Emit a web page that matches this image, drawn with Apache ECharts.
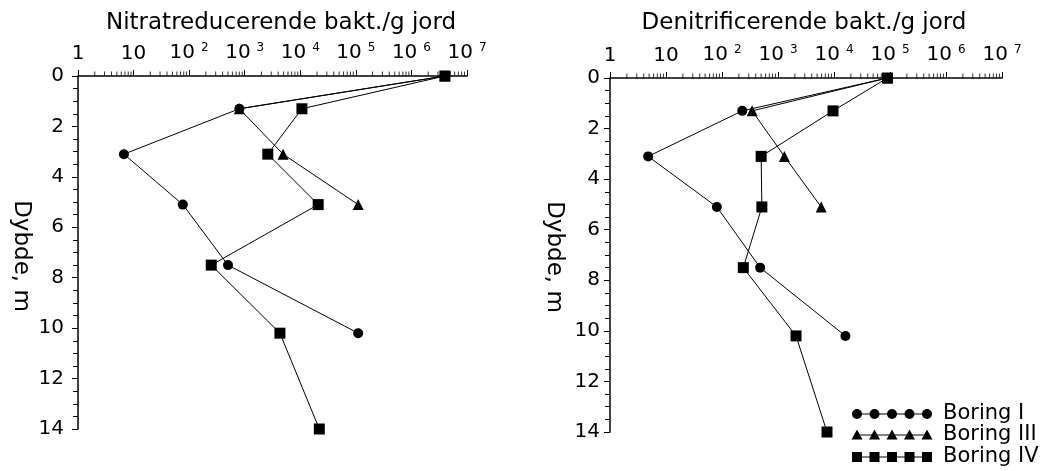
<!DOCTYPE html>
<html><head><meta charset="utf-8">
<script src="https://cdn.jsdelivr.net/npm/echarts@6/dist/echarts.min.js"></script>
<style>html,body{margin:0;padding:0;background:#fff}#c{width:1061px;height:471px}</style>
</head><body><div id="c"></div>
<script>
// ---- data ----
var depths = [0, 1.3, 3.1, 5.1, 7.5, 10.2, 14];
var seriesNames = ['Boring I', 'Boring III', 'Boring IV'];
var panelTitles = ['Nitratreducerende bakt./g jord', 'Denitrificerende bakt./g jord'];
var yAxisName = 'Dybde, m';
// Nitratreducerende (left panel)
var nitI   = [4e6, 800, 6.7, 77, 500, 1.1e5, null];
var nitIII = [4e6, 800, 4900, 1.1e5, null, null, null];
var nitIV  = [4e6, 1.07e4, 2600, 2.1e4, 250, 4300, 2.2e4];
// Denitrificerende (right panel)
var denI   = [9e4, 230, 4.8, 81, 480, 1.6e4, null];
var denIII = [9e4, 345, 1300, 5900, null, null, null];
var denIV  = [9e4, 9600, 500, 515, 240, 2100, 7500];
// log-axis minor tick mantissas
var minorMantissas = [2, 3, 4, 5, 6, 7, 8, 9];
var decades = [1, 10, 100, 1e3, 1e4, 1e5, 1e6];

var FONT = 'DejaVu Sans';
function pts(vals){ var o=[]; for (var i=0;i<vals.length;i++){ if (vals[i]!==null) o.push([vals[i], depths[i]]); } return o; }
var symbols = {'Boring I':'circle','Boring III':'triangle','Boring IV':'rect'};
var sizes = {'Boring I':10,'Boring III':11,'Boring IV':11};

function mkSeries(name, vals, idx, z){
  return {type:'line', name:name, xAxisIndex:idx, yAxisIndex:idx, data:pts(vals), z:z,
    symbol:symbols[name], symbolSize:sizes[name], showSymbol:true,
    lineStyle:{color:'#000', width:1}, itemStyle:{color:'#000'}, emphasis:{disabled:true}};
}
var minorVals = [];
decades.forEach(function(d){ minorMantissas.forEach(function(m){ minorVals.push([m*d, 0]); }); });
function minorTickSeries(idx){
  return {type:'scatter', xAxisIndex:idx, yAxisIndex:idx, data:minorVals, silent:true, clip:false, z:5,
    symbol:'rect', symbolSize:[1,4], symbolOffset:[0,-2.5], itemStyle:{color:'#000'}, emphasis:{disabled:true}};
}
function xAx(idx){
  return {type:'log', logBase:10, min:1, max:1e7, splitNumber:7, position:'top', gridIndex:idx,
    axisLine:{lineStyle:{color:'#000', width:1.5}},
    axisTick:{show:true, length:6, lineStyle:{color:'#000'}},
    splitLine:{show:false},
    axisLabel:{show:true, showMinLabel:true, showMaxLabel:true, margin:12, color:'#000', fontFamily:FONT, fontSize:20,
      formatter:function(v){ var e=Math.round(Math.log(v)/Math.LN10); if(e===0) return '1'; if(e===1) return '10'; return '10{s|'+e+'}'; },
      rich:{s:{fontSize:12, fontFamily:FONT, color:'#000', verticalAlign:'top', padding:[0,0,10,6]}}}
  };
}
function yAx(idx, margin){
  return {type:'value', inverse:true, min:0, max:14, interval:2, gridIndex:idx,
    axisLine:{show:true, lineStyle:{color:'#000', width:1.5}},
    axisTick:{show:true, length:6, lineStyle:{color:'#000'}},
    minorTick:{show:true, splitNumber:4, length:5, lineStyle:{color:'#000'}},
    splitLine:{show:false},
    axisLabel:{margin:margin, color:'#000', fontFamily:FONT, fontSize:20}};
}

// legend drawn as graphic
var legendG = [];
var lx0 = 857, ly = [414, 435, 457];
seriesNames.forEach(function(n, r){
  var y = ly[r];
  legendG.push({type:'line', shape:{x1:lx0, y1:y, x2:lx0+70, y2:y}, style:{stroke:'#000', lineWidth:1}});
  for (var k=0;k<5;k++){
    var cx = lx0 + k*17.5;
    if (n==='Boring I') legendG.push({type:'circle', shape:{cx:cx, cy:y, r:5}, style:{fill:'#000'}});
    else if (n==='Boring III') legendG.push({type:'polygon', shape:{points:[[cx,y-5.5],[cx-5.5,y+4.5],[cx+5.5,y+4.5]]}, style:{fill:'#000'}});
    else legendG.push({type:'rect', shape:{x:cx-5, y:y-5, width:10, height:10}, style:{fill:'#000'}});
  }
  legendG.push({type:'text', x:943, y:y, style:{text:n, fill:'#000', font:'21px "'+FONT+'"', verticalAlign:'middle', align:'left'}});
});
legendG.push({type:'text', x:21, y:256, rotation:-Math.PI/2, style:{text:yAxisName, fill:'#000', font:'23px "'+FONT+'"', align:'center', verticalAlign:'middle'}});
legendG.push({type:'text', x:554, y:257, rotation:-Math.PI/2, style:{text:yAxisName, fill:'#000', font:'23px "'+FONT+'"', align:'center', verticalAlign:'middle'}});

var chart = echarts.init(document.getElementById('c'), null, {renderer:'canvas'});
chart.setOption({
  animation:false, backgroundColor:'#fff',
  title:[
    {text:panelTitles[0], left:276, top:7, textAlign:'center', textStyle:{fontFamily:FONT, fontSize:23, fontWeight:'normal', color:'#000'}},
    {text:panelTitles[1], left:799, top:7, textAlign:'center', textStyle:{fontFamily:FONT, fontSize:23, fontWeight:'normal', color:'#000'}}
  ],
  grid:[
    {left:78, top:76, width:389, height:353},
    {left:610, top:78, width:392, height:354}
  ],
  xAxis:[xAx(0), xAx(1)],
  yAxis:[yAx(0, 14), yAx(1, 10)],
  series:[
    mkSeries('Boring III', nitIII, 0, 2), mkSeries('Boring I', nitI, 0, 3), mkSeries('Boring IV', nitIV, 0, 4),
    mkSeries('Boring III', denIII, 1, 2), mkSeries('Boring I', denI, 1, 3), mkSeries('Boring IV', denIV, 1, 4),
    minorTickSeries(0), minorTickSeries(1)
  ],
  graphic:legendG
});
</script></body></html>
